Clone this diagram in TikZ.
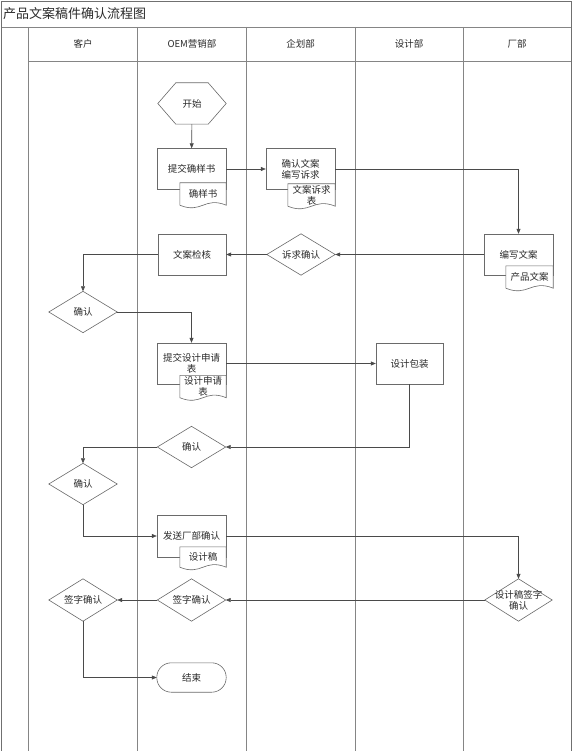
\documentclass[tikz,border=0pt]{standalone}
\usepackage{fontspec}
\newfontfamily\cjk{Noto Sans CJK SC}
\usetikzlibrary{arrows.meta}
\pgfdeclarelayer{bg}
\pgfsetlayers{bg,main}
\definecolor{laneC}{HTML}{858585}
\definecolor{frameC}{HTML}{707070}
\definecolor{shapeC}{HTML}{6A6A6A}
\definecolor{connC}{HTML}{4A4A4A}
\definecolor{txtC}{HTML}{2A2A2A}
\begin{document}
\begin{tikzpicture}[x=1pt,y=-1pt,
  every node/.style={font=\cjk\fontsize{9.5}{11}\selectfont, text=txtC, inner sep=0pt, align=center},
  box/.style={minimum width=69pt, minimum height=41pt},
  doc/.style={minimum width=46pt, minimum height=22pt},
  dia/.style={minimum width=68pt, minimum height=41pt},
  outline/.style={draw=shapeC, line width=0.6pt, fill=white},
  conn/.style={draw=connC, line width=0.6pt},
  arr/.style={conn, -{Triangle[length=5pt,width=4pt]}},
  lane/.style={draw=laneC, line width=0.8pt},
  frame/.style={draw=frameC, line width=1.3pt},
  hdr/.style={font=\cjk\fontsize{9.5}{11}\selectfont},
  ttl/.style={font=\cjk\fontsize{13}{15}\selectfont, anchor=west}]
\useasboundingbox (0,0) rectangle (573,751);

% text nodes
\node[ttl] (title) at (3,14) {产品文案稿件确认流程图};
\node[hdr] (h1) at (83,44) {客户};
\node[hdr] (h2) at (192,44) {OEM营销部};
\node[hdr] (h3) at (300.5,44) {企划部};
\node[hdr] (h4) at (409,44) {设计部};
\node[hdr] (h5) at (517,44) {厂部};

\node[minimum width=68pt, minimum height=41pt] (start) at (192,103.5) {开始};
\node[box] (b1) at (191.5,169) {提交确样书};
\node[doc] (c1) at (203,194) {确样书};
\node[box] (b2) at (300.5,169) {确认文案\\编写诉求};
\node[doc, minimum width=47pt] (c2) at (311.5,195) {文案诉求\\表};
\node[box] (b3) at (518.5,254.5) {编写文案};
\node[doc, minimum width=47pt] (c3) at (529.5,277) {产品文案};
\node[dia] (q0) at (301,254.5) {诉求确认};
\node[box, minimum width=68pt] (b4) at (192,254.5) {文案检核};
\node[dia] (q1) at (83,312) {确认};
\node[box] (b5) at (191.5,363.5) {提交设计申请\\表};
\node[doc] (c5) at (203,386.5) {设计申请\\表};
\node[box, minimum width=67pt] (b6) at (409.5,363.5) {设计包装};
\node[dia] (q2) at (191.5,447) {确认};
\node[dia] (q3) at (83,484) {确认};
\node[box, minimum height=42pt] (b7) at (191.5,536) {发送厂部确认};
\node[doc, minimum height=20pt] (c7) at (203,557) {设计稿};
\node[dia, minimum width=67pt, minimum height=42pt] (q4) at (518.5,600) {设计稿签字\\确认};
\node[dia, minimum height=42pt] (q5) at (191.5,600) {签字确认};
\node[dia, minimum height=42pt] (q6) at (83,600) {签字确认};
\node[minimum width=69pt, minimum height=29pt] (end) at (191.5,677.5) {结束};

\begin{pgfonlayer}{bg}
  % frame and lanes
  \draw[lane] (1.5,27) -- (571.5,27);
  \draw[lane] (28,61.5) -- (571.5,61.5);
  \foreach \x in {28,137.5,246,355,463}
    \draw[lane] (\x,27) -- (\x,751);
  \draw[frame] (1.5,751) -- (1.5,1.5) -- (571.5,1.5) -- (571.5,751);
  % process boxes
  \foreach \n in {b1,b2,b3,b4,b5,b6,b7}
    \draw[outline] (\n.north west) rectangle (\n.south east);
  % documents
  \foreach \n in {c1,c2,c3,c5,c7}
    \draw[outline] (\n.north west) -- (\n.north east) -- (\n.south east)
      .. controls ([xshift=-22pt,yshift=9pt]\n.south east) and ([xshift=22pt,yshift=-9pt]\n.south west) .. (\n.south west) -- cycle;
  % decisions
  \foreach \n in {q0,q1,q2,q3,q4,q5,q6}
    \draw[outline] (\n.north) -- (\n.east) -- (\n.south) -- (\n.west) -- cycle;
  % start hexagon
  \draw[outline] (start.west) -- ([xshift=18pt]start.north west) -- ([xshift=-18pt]start.north east)
    -- (start.east) -- ([xshift=-18pt]start.south east) -- ([xshift=18pt]start.south west) -- cycle;
  % end terminator
  \draw[outline, rounded corners=14.5pt] (end.north west) rectangle (end.south east);
\end{pgfonlayer}

% connectors
\draw[arr] (start) -- (b1);
\draw[arr] (b1.east) -- (b2.west);
\draw[arr] (b2.east) -| (b3.north);
\draw[arr] (b3.west) -- (q0.east);
\draw[arr] (q0.west) -- (b4.east);
\draw[arr] (b4.west) -| (q1.north);
\draw[arr] (q1.east) -| (b5.north);
\draw[arr] (b5.east) -- (b6.west);
\draw[arr] (b6.south) |- (q2.east);
\draw[arr] (q2.west) -| (q3.north);
\draw[arr] (q3.south) |- (b7.west);
\draw[arr] (b7.east) -| (q4.north);
\draw[arr] (q4.west) -- (q5.east);
\draw[arr] (q5.west) -- (q6.east);
\draw[arr] (q6.south) |- (end.west);
\end{tikzpicture}
\end{document}
